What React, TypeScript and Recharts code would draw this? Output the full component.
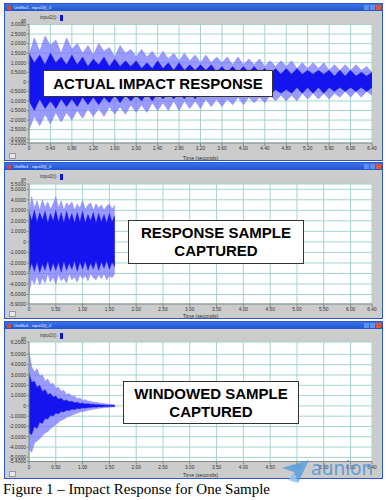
import { ComposedChart, Area, XAxis, YAxis, CartesianGrid, Label } from 'recharts';

// time axis (seconds)
const TIME_FULL = [
  0, 0.1, 0.2, 0.3, 0.4, 0.5, 0.6, 0.7, 0.8, 0.9,
  1.0, 1.1, 1.2, 1.3, 1.4, 1.5, 1.6, 1.7, 1.8, 1.9,
  2.0, 2.1, 2.2, 2.3, 2.4, 2.5, 2.6, 2.7, 2.8, 2.9,
  3.0, 3.1, 3.2, 3.3, 3.4, 3.5, 3.6, 3.7, 3.8, 3.9,
  4.0, 4.1, 4.2, 4.3, 4.4, 4.5, 4.6, 4.7, 4.8, 4.9,
  5.0, 5.1, 5.2, 5.3, 5.4, 5.5, 5.6, 5.7, 5.8, 5.9,
  6.0, 6.1, 6.2, 6.3, 6.4,
];
const TIME_SHORT = [
  0, 0.05, 0.1, 0.15, 0.2, 0.25, 0.3, 0.35, 0.4, 0.45,
  0.5, 0.55, 0.6, 0.65, 0.7, 0.75, 0.8, 0.85, 0.9, 0.95,
  1.0, 1.05, 1.1, 1.15, 1.2, 1.25, 1.3, 1.35, 1.4, 1.45,
  1.5, 1.55, 1.6,
];

// actual impact response: peak envelope + dense core
const HI1 = [
  1.4, 2.3, 1.6, 2.4, 1.9, 2.2, 1.5, 2.3, 1.7, 2.0,
  1.5, 1.9, 1.4, 2.0, 1.6, 1.8, 1.3, 1.9, 1.5, 1.7,
  1.3, 1.7, 1.3, 1.6, 1.2, 1.6, 1.2, 1.5, 1.1, 1.5,
  1.1, 1.4, 1.0, 1.4, 1.0, 1.3, 1.0, 1.3, 0.9, 1.3,
  0.9, 1.2, 0.9, 1.2, 0.8, 1.1, 0.8, 1.1, 0.8, 1.1,
  0.7, 1.0, 0.7, 1.0, 0.7, 1.0, 0.6, 0.9, 0.6, 0.9,
  0.6, 0.9, 0.6, 0.8, 0.5,
];
const LO1 = [
  -2.5, -1.8, -2.3, -1.7, -2.2, -1.6, -2.1, -1.6, -2.0, -1.5,
  -1.9, -1.4, -1.8, -1.4, -1.8, -1.3, -1.7, -1.3, -1.7, -1.2,
  -1.6, -1.2, -1.6, -1.1, -1.5, -1.1, -1.5, -1.0, -1.5, -1.0,
  -1.4, -1.0, -1.4, -0.9, -1.3, -0.9, -1.3, -0.9, -1.2, -0.8,
  -1.2, -0.8, -1.1, -0.8, -1.1, -0.7, -1.0, -0.7, -1.0, -0.7,
  -1.0, -0.6, -0.9, -0.6, -0.9, -0.6, -0.9, -0.6, -0.8, -0.5,
  -0.8, -0.5, -0.8, -0.5, -0.7,
];
const HICORE1 = [
  1.5, 1.0, 1.4, 0.9, 1.5, 1.0, 1.3, 0.9, 1.4, 0.9,
  1.3, 0.8, 1.2, 0.9, 1.3, 0.8, 1.2, 0.8, 1.1, 0.8,
  1.1, 0.7, 1.0, 0.7, 1.1, 0.7, 1.0, 0.6, 1.0, 0.6,
  0.9, 0.6, 0.9, 0.6, 0.9, 0.5, 0.8, 0.5, 0.8, 0.5,
  0.8, 0.5, 0.8, 0.5, 0.7, 0.4, 0.7, 0.4, 0.7, 0.4,
  0.7, 0.4, 0.6, 0.4, 0.6, 0.4, 0.6, 0.3, 0.6, 0.3,
  0.6, 0.3, 0.5, 0.3, 0.5,
];
const LOCORE1 = [
  -1.0, -1.5, -0.9, -1.4, -1.0, -1.4, -0.9, -1.3, -0.9, -1.3,
  -0.8, -1.2, -0.8, -1.2, -0.8, -1.1, -0.7, -1.1, -0.7, -1.0,
  -0.7, -1.0, -0.6, -1.0, -0.6, -0.9, -0.6, -0.9, -0.6, -0.9,
  -0.5, -0.9, -0.5, -0.8, -0.5, -0.8, -0.5, -0.8, -0.4, -0.7,
  -0.4, -0.7, -0.4, -0.7, -0.4, -0.7, -0.4, -0.6, -0.4, -0.6,
  -0.3, -0.6, -0.3, -0.6, -0.3, -0.6, -0.3, -0.5, -0.3, -0.5,
  -0.3, -0.5, -0.3, -0.5, -0.3,
];

// response sample captured (first 1.6 s)
const HI2 = [
  2.7, 4.3, 3.2, 3.9, 3.0, 4.0, 3.3, 3.8, 3.1, 3.6,
  4.3, 3.2, 3.9, 3.0, 3.7, 3.4, 3.8, 3.0, 3.6, 3.2,
  3.9, 3.1, 3.5, 3.7, 3.0, 3.6, 3.2, 3.5, 3.0, 3.4,
  3.6, 3.1, 3.5,
];
const LO2 = [
  -4.8, -3.5, -4.0, -3.2, -4.1, -3.4, -3.9, -3.0, -3.8, -3.3,
  -4.0, -3.1, -3.7, -3.4, -3.9, -3.0, -3.6, -3.3, -3.8, -3.1,
  -3.5, -3.2, -3.7, -3.0, -3.4, -3.6, -3.1, -3.5, -3.0, -3.6,
  -3.2, -3.4, -3.0,
];
const HICORE2 = [
  2.9, 2.0, 3.0, 1.9, 2.8, 2.1, 2.9, 1.8, 2.7, 2.0,
  3.0, 1.9, 2.8, 1.8, 2.9, 2.0, 2.7, 1.8, 2.8, 1.9,
  2.9, 1.8, 2.6, 2.0, 2.8, 1.8, 2.7, 1.9, 2.6, 1.8,
  2.7, 1.9, 2.5,
];
const LOCORE2 = [
  -2.9, -2.0, -2.8, -1.9, -2.9, -2.1, -2.7, -1.8, -2.8, -2.0,
  -2.7, -1.9, -2.9, -1.8, -2.7, -2.0, -2.6, -1.8, -2.8, -1.9,
  -2.6, -1.8, -2.7, -2.0, -2.6, -1.8, -2.7, -1.9, -2.5, -1.8,
  -2.6, -1.9, -2.4,
];

// windowed sample (decaying)
const HI3 = [
  5.2, 3.8, 3.3, 3.6, 2.9, 3.0, 2.4, 2.6, 2.1, 2.2,
  1.7, 1.8, 1.4, 1.5, 1.1, 1.2, 0.9, 0.95, 0.7, 0.75,
  0.55, 0.6, 0.45, 0.45, 0.35, 0.35, 0.28, 0.25, 0.2, 0.18,
  0.15, 0.12, 0.1,
];
const LO3 = [
  -4.2, -4.5, -3.6, -3.4, -3.2, -2.9, -2.6, -2.5, -2.2, -2.0,
  -1.8, -1.6, -1.4, -1.3, -1.1, -1.0, -0.9, -0.8, -0.7, -0.6,
  -0.55, -0.5, -0.42, -0.38, -0.32, -0.28, -0.24, -0.2, -0.18, -0.15,
  -0.13, -0.11, -0.1,
];
const HICORE3 = [
  3.2, 2.3, 2.4, 1.8, 2.0, 1.4, 1.6, 1.1, 1.2, 0.85,
  0.95, 0.65, 0.75, 0.5, 0.58, 0.4, 0.45, 0.3, 0.35, 0.24,
  0.27, 0.19, 0.21, 0.15, 0.16, 0.11, 0.12, 0.08, 0.09, 0.06,
  0.07, 0.05, 0.05,
];
const LOCORE3 = [
  -2.6, -2.8, -2.0, -2.2, -1.6, -1.7, -1.2, -1.3, -0.9, -1.0,
  -0.7, -0.78, -0.55, -0.6, -0.42, -0.46, -0.32, -0.36, -0.25, -0.28,
  -0.19, -0.22, -0.15, -0.17, -0.11, -0.13, -0.08, -0.1, -0.06, -0.07,
  -0.05, -0.05, -0.04,
];

const X_TICKS_1 = [0, 0.4, 0.8, 1.2, 1.6, 2.0, 2.4, 2.8, 3.2, 3.6, 4.0, 4.4, 4.8, 5.2, 5.6, 6.0, 6.4];
const X_TICKS_2 = [0, 0.5, 1.0, 1.5, 2.0, 2.5, 3.0, 3.5, 4.0, 4.5, 5.0, 5.5, 6.0, 6.4];
const Y_TICKS_1 = [3, 2.5, 2, 1.5, 1, 0.5, 0, -0.5, -1, -1.5, -2, -2.5, -3, -3.2];
const Y_TICKS_2 = [5.5, 5, 4, 3, 2, 1, 0, -1, -2, -3, -4, -5, -5.9];
const Y_TICKS_3 = [6.2, 5, 4, 3, 2, 1, 0, -1, -2, -3, -4, -5, -5.4];

const toRows = (t: number[], hi: number[], lo: number[], hc: number[], lc: number[]) =>
  t.map((x, i) => ({ t: x, hi: hi[i], lo: lo[i], hc: hc[i], lc: lc[i] }));

const FONT = 'Liberation Sans, Arial, sans-serif';
const GRID = '#a3d4cf';

interface PanelProps {
  top: number;
  height: number;
  rows: { t: number; hi: number; lo: number; hc: number; lc: number }[];
  xTicks: number[];
  yTicks: number[];
  yDomain: [number, number];
  marginTop: number;
  xAxisHeight: number;
  labelOffset: number;
}

function SignalPanel({ top, height, rows, xTicks, yTicks, yDomain, marginTop, xAxisHeight, labelOffset }: PanelProps) {
  return (
    <>
      {/* window frame */}
      <div
        style={{
          position: 'absolute', left: 4, top, width: 377, height: height - 2,
          background: '#cccccc', border: '1px solid #2b58cc',
        }}
      />
      <div
        style={{
          position: 'absolute', left: 5, top: top + 1, width: 377, height: 7,
          background: 'linear-gradient(#3b74e6, #1f54d6)',
        }}
      >
        <div style={{ position: 'absolute', left: 2, top: 1.5, width: 4, height: 4, background: '#d8452b' }} />
        <div style={{ position: 'absolute', left: 9, top: 0, fontSize: 4, lineHeight: '7px', color: '#fff', fontFamily: FONT }}>
          UnitNo1 - input2(t)_0
        </div>
        <div style={{ position: 'absolute', right: 13, top: 1, width: 5, height: 5, background: '#5f8ff0' }} />
        <div style={{ position: 'absolute', right: 7, top: 1, width: 5, height: 5, background: '#5f8ff0' }} />
        <div style={{ position: 'absolute', right: 1, top: 1, width: 5, height: 5, background: '#e0583a' }} />
      </div>
      <div style={{ position: 'absolute', left: 9, top: top + height - 8, width: 5, height: 4, background: '#e8e8e8', border: '0.5px solid #999' }} />
      {/* legend + unit */}
      <div style={{ position: 'absolute', left: 40, top: top + 12, fontSize: 4.5, fontFamily: FONT, color: '#333' }}>input2(t)</div>
      <div style={{ position: 'absolute', left: 60, top: top + 12, width: 3, height: 6, background: '#1010e0' }} />
      <div style={{ position: 'absolute', left: 21, top: top + 15, fontSize: 4.5, fontFamily: FONT, color: '#333' }}>gn</div>
      <div style={{ position: 'absolute', left: 0, top }}>
        <ComposedChart width={388} height={height} data={rows} margin={{ top: marginTop, right: 16, bottom: 0, left: 0 }}>
          <CartesianGrid stroke={GRID} fill="#ffffff" />
          <XAxis
            dataKey="t"
            type="number"
            domain={[0, 6.4]}
            ticks={xTicks}
            interval={0}
            height={xAxisHeight}
            tickFormatter={(v: number) => (v === 0 ? '0' : v.toFixed(2))}
            tick={{ fontSize: 4.8, fill: '#333', fontFamily: FONT }}
            tickSize={3}
            tickMargin={1}
            stroke="#888"
          >
            <Label value="Time (seconds)" position="insideBottom" offset={labelOffset} style={{ fontSize: 5.2, fill: '#333', fontFamily: FONT }} />
          </XAxis>
          <YAxis
            type="number"
            domain={yDomain}
            ticks={yTicks}
            interval={0}
            width={29}
            allowDataOverflow
            tickFormatter={(v: number) => (v === 0 ? '0' : v.toFixed(4))}
            tick={{ fontSize: 5, fill: '#333', fontFamily: FONT }}
            tickSize={2}
            tickMargin={1}
            stroke="#888"
          />
          <Area
            type="linear"
            dataKey={(d: { lo: number; hi: number }) => [d.lo, d.hi]}
            stroke="#8080ff"
            strokeWidth={0.5}
            fill="#7878ff"
            fillOpacity={0.75}
            dot={false}
            activeDot={false}
            isAnimationActive={false}
          />
          <Area
            type="linear"
            dataKey={(d: { lc: number; hc: number }) => [d.lc, d.hc]}
            stroke="#2020f0"
            strokeWidth={0.5}
            fill="#1414ee"
            fillOpacity={1}
            dot={false}
            activeDot={false}
            isAnimationActive={false}
          />
        </ComposedChart>
      </div>
    </>
  );
}

const boxStyle = {
  position: 'absolute' as const,
  background: '#fff',
  border: '1px solid #333',
  display: 'flex',
  flexDirection: 'column' as const,
  alignItems: 'center',
  justifyContent: 'center',
  fontFamily: FONT,
  fontWeight: 700,
  fontSize: 15,
  lineHeight: '18px',
  color: '#000',
  boxSizing: 'border-box' as const,
};

export default function App() {
  return (
    <div style={{ position: 'absolute', left: 0, top: 0, width: 388, height: 500, background: '#fff', overflow: 'hidden' }}>
      <SignalPanel
        top={3}
        height={158}
        rows={toRows(TIME_FULL, HI1, LO1, HICORE1, LOCORE1)}
        xTicks={X_TICKS_1}
        yTicks={Y_TICKS_1}
        yDomain={[-3.2, 3]}
        marginTop={21.5}
        xAxisHeight={18}
        labelOffset={1.5}
      />
      <SignalPanel
        top={162}
        height={157}
        rows={toRows(TIME_SHORT, HI2, LO2, HICORE2, LOCORE2)}
        xTicks={X_TICKS_2}
        yTicks={Y_TICKS_2}
        yDomain={[-5.9, 5.5]}
        marginTop={22}
        xAxisHeight={15}
        labelOffset={1}
      />
      <SignalPanel
        top={321}
        height={158}
        rows={toRows(TIME_SHORT, HI3, LO3, HICORE3, LOCORE3)}
        xTicks={X_TICKS_2}
        yTicks={Y_TICKS_3}
        yDomain={[-5.4, 6.2]}
        marginTop={21}
        xAxisHeight={17.5}
        labelOffset={2}
      />

      <div style={{ ...boxStyle, left: 43, top: 70, width: 230, height: 27 }}>ACTUAL IMPACT RESPONSE</div>
      <div style={{ ...boxStyle, left: 128, top: 220, width: 176, height: 44 }}>
        <div>RESPONSE SAMPLE</div>
        <div>CAPTURED</div>
      </div>
      <div style={{ ...boxStyle, left: 123, top: 381, width: 176, height: 43 }}>
        <div>WINDOWED SAMPLE</div>
        <div>CAPTURED</div>
      </div>

      {/* watermark */}
      <svg style={{ position: 'absolute', left: 280, top: 458 }} width={30} height={26}>
        <polygon points="2,10 29,2 18,25 14,14" fill="#5aa0de" opacity={0.85} />
        <polygon points="14,14 18,25 8,22" fill="#8cc4ee" opacity={0.85} />
      </svg>
      <div style={{ position: 'absolute', left: 311, top: 457, fontSize: 19, fontFamily: 'Noto Sans, sans-serif', color: '#4e96da', opacity: 0.85, lineHeight: '22px' }}>
        aunion
      </div>

      <div style={{ position: 'absolute', left: 3, top: 481, fontSize: 15, fontFamily: 'Liberation Serif, Times New Roman, serif', color: '#000', whiteSpace: 'nowrap' }}>
        Figure 1 – Impact Response for One Sample
      </div>
    </div>
  );
}
